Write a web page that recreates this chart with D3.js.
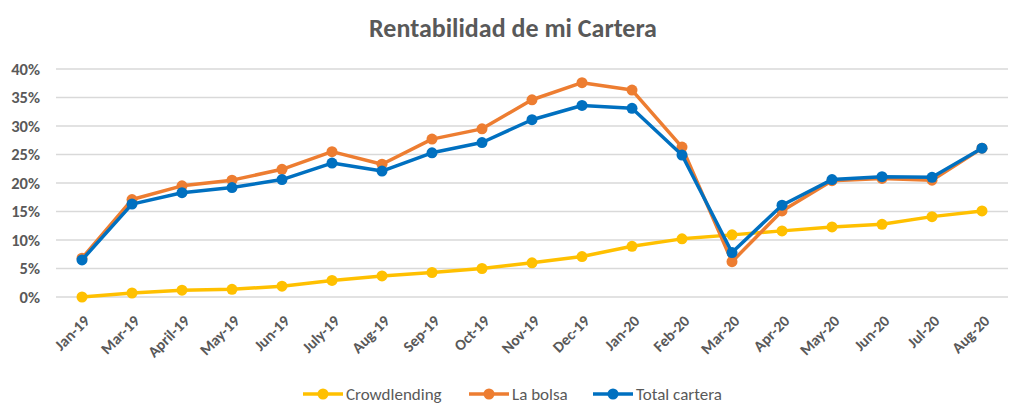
<!DOCTYPE html>
<html><head><meta charset="utf-8">
<script src="https://cdn.jsdelivr.net/npm/d3@7"></script>
<style>body{margin:0;background:#fff;}svg{display:block;}</style>
</head><body>
<svg id="c" width="1024" height="416"></svg>
<script>
const categories = ["Jan-19","Mar-19","April-19","May-19","Jun-19","July-19","Aug-19","Sep-19","Oct-19","Nov-19","Dec-19","Jan-20","Feb-20","Mar-20","Apr-20","May-20","Jun-20","Jul-20","Aug-20"];
const crowdlending = [0.0,0.7,1.2,1.35,1.9,2.9,3.7,4.3,5.0,6.0,7.1,8.9,10.2,10.9,11.6,12.3,12.75,14.1,15.1];
const laBolsa = [6.8,17.1,19.5,20.5,22.4,25.5,23.3,27.7,29.5,34.6,37.6,36.3,26.3,6.2,15.1,20.4,20.8,20.5,26.1];
const totalCartera = [6.5,16.3,18.3,19.2,20.6,23.5,22.1,25.3,27.1,31.1,33.6,33.1,24.9,7.8,16.1,20.6,21.1,21.0,26.1];
const yTicks = [0,5,10,15,20,25,30,35,40];
const seriesNames = ["Crowdlending","La bolsa","Total cartera"];
const seriesColors = ["#FFC000","#ED7D31","#0070C0"];
const series = [crowdlending, laBolsa, totalCartera];
</script>
<script>
(function(){
const svg = d3.select("#c");
const font = "Calibri, Carlito, Lato, sans-serif";
const pLeft = 56, pRight = 1008, pTop = 69, pBottom = 297;
const x = d3.scalePoint().domain(categories).range([82, 982]);
const y = d3.scaleLinear().domain([0,40]).range([pBottom, pTop]);

svg.append("text").attr("x", 513).attr("y", 37).attr("text-anchor","middle")
  .attr("font-family", font).attr("font-weight","bold").attr("font-size", 26)
  .attr("fill","#595959").text("Rentabilidad de mi Cartera");

svg.append("g").selectAll("line").data(yTicks).join("line")
  .attr("x1", pLeft).attr("x2", pRight)
  .attr("y1", d => y(d)).attr("y2", d => y(d))
  .attr("stroke", "#D9D9D9").attr("stroke-width", 1.3);

const yAxis = d3.axisLeft(y).tickValues(yTicks).tickFormat(d => d + "%").tickSize(0).tickPadding(0);
const ya = svg.append("g").attr("transform", `translate(40,0)`).call(yAxis);
ya.select(".domain").remove();
ya.selectAll("text").attr("font-family", font).attr("font-weight","bold").attr("font-size", 16.5).attr("fill","#595959");

const xAxis = d3.axisBottom(x).tickSize(0).tickPadding(0);
const xa = svg.append("g").attr("transform", `translate(0,${pBottom})`).call(xAxis);
xa.select(".domain").remove();
xa.selectAll("text").attr("font-family", font).attr("font-weight","bold").attr("font-size", 15.5).attr("fill","#595959")
  .attr("text-anchor","end").attr("dy", null).attr("y", 0)
  .attr("transform", "translate(8,25) rotate(-45)");

const line = d3.line().x((d,i) => x(categories[i])).y(d => y(d));
series.forEach((s, k) => {
  const g = svg.append("g");
  g.append("path").datum(s).attr("d", line).attr("fill","none")
    .attr("stroke", seriesColors[k]).attr("stroke-width", 3.5).attr("stroke-linejoin","round");
  g.selectAll("circle").data(s).join("circle")
    .attr("cx", (d,i) => x(categories[i])).attr("cy", d => y(d)).attr("r", 5.5)
    .attr("fill", seriesColors[k]);
});

const legX = [303, 469, 593];
const lg = svg.append("g");
seriesNames.forEach((n, k) => {
  const gx = legX[k], gy = 394;
  lg.append("line").attr("x1", gx).attr("x2", gx + 40).attr("y1", gy).attr("y2", gy)
    .attr("stroke", seriesColors[k]).attr("stroke-width", 3.5);
  lg.append("circle").attr("cx", gx + 20).attr("cy", gy).attr("r", 5.5).attr("fill", seriesColors[k]);
  lg.append("text").attr("x", gx + 43).attr("y", gy + 6).attr("font-family", font).attr("font-size", 17)
    .attr("fill", "#595959").text(n);
});
})();
</script>
</body></html>
